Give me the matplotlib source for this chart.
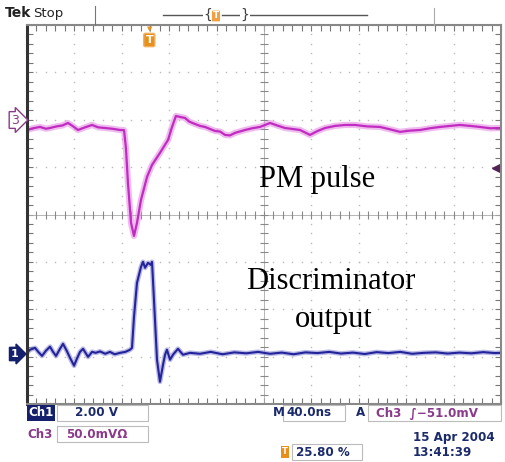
import numpy as np
import matplotlib.pyplot as plt

# screen time in ns (M 40.0ns/div, 10 div)
ch3_t = [0, 5, 11, 16, 19.4, 25, 30, 34.6, 39, 43, 49, 54.9, 60, 65.8, 72, 78.5,
         81.9, 83.5, 85.2, 87.8, 90.3, 92.8, 96.2, 101.3, 105.5, 112.2, 119.0,
         122.4, 125.7, 129, 133.3, 137, 141.8, 146, 150.2, 158.6, 163, 167.1,
         171.3, 175.5, 184.0, 190, 196.6, 205.1, 211, 217.7, 230.4, 238.8, 245,
         251.5, 260, 268.4, 276.8, 287, 297.9, 306, 314.8, 323, 331.7, 340,
         348.5, 357, 365.4, 374, 382.3, 391, 400]
# PM pulse, mV (50.0 mV/div)
ch3_mv = [-10.8, -9, -7.6, -9.5, -8.7, -7, -6, -3.4, -7, -10.8, -8, -5.5, -8,
          -8.7, -9.5, -10.8, -11, -30, -66.7, -108.9, -122.6, -108.9, -84.6,
          -60.3, -47.7, -35.0, -21.3, -7.6, 4.0, 3, 1.9, -2, -4.5, -6.5, -7.6,
          -11.8, -12.5, -16.0, -16.5, -13.9, -10.8, -9, -7.6, -3.4, -6, -8.7,
          -10.8, -16.0, -12, -8.7, -6.5, -5.5, -5.5, -7, -7.6, -10, -12.8,
          -11.5, -10.8, -9, -7.6, -6.5, -5.5, -6.5, -7.6, -9, -8.7]

ch1_t = [0, 2.5, 6.8, 9.5, 12.7, 16, 19.4, 22, 24.5, 27.5, 30.4, 33.5, 36.3,
         39.7, 42, 44.7, 47.3, 51.5, 54.9, 58, 61.6, 66, 70.0, 74, 78.5, 83,
         86.9, 88.6, 90.3, 92.8, 96.2, 97.9, 99.6, 102.1, 104.6, 105.5, 106.3,
         108.0, 109.7, 112.2, 114.8, 116.5, 118.1, 120.7, 123.2, 127.4, 131.6,
         137.6, 146, 155, 165, 175, 185, 195, 205, 215, 225, 235, 245, 255,
         265, 275, 285, 295, 305, 315, 325, 335, 345, 355, 365, 375, 385, 395, 400]
# discriminator output, V (2.00 V/div)
ch1_v = [0.16, 0.29, 0.37, 0.2, 0.03, 0.25, 0.42, 0.2, 0.03, 0.3, 0.54, 0.25,
         -0.05, -0.38, -0.1, 0.2, 0.33, -0.01, 0.2, 0.16, 0.22, 0.12, 0.2, 0.1,
         0.16, 0.2, 0.29, 0.37, 1.68, 3.11, 3.79, 4.0, 3.75, 3.96, 3.87, 4.0,
         3.24, 1.55, -0.13, -1.06, -0.34, 0.08, 0.29, -0.13, 0.08, 0.33, 0.08,
         0.16, 0.12, 0.2, 0.1, 0.18, 0.14, 0.2, 0.12, 0.17, 0.1, 0.18, 0.15,
         0.2, 0.13, 0.17, 0.11, 0.19, 0.15, 0.2, 0.12, 0.16, 0.18, 0.13, 0.17,
         0.14, 0.19, 0.15, 0.16]

ch3_pos, ch3_scale = 2.0, 50.0   # divisions, mV/div
ch1_pos, ch1_scale = -3.0, 2.0   # divisions, V/div
trig_mv = -51.0
trig_frac = 0.258

W, H = 505, 462
def fx(x): return x / W
def fy(y): return 1 - y / H

navy = '#1b2a6b'
mag = '#8a3a8a'

fig = plt.figure(figsize=(5.05, 4.62), dpi=100)
ax = fig.add_axes([fx(27), fy(404), 474 / W, 379 / H])
ax.set_xlim(0, 400)
ax.set_ylim(-4, 4)
ax.set_xticks(np.arange(0, 400.1, 8))
ax.set_yticks(np.arange(-4, 4.01, 0.2))
ax.tick_params(direction='in', length=4, width=0.8, color='#777', top=True, right=True,
               labelbottom=False, labelleft=False)
for s in ax.spines.values():
    s.set_color('#888')
    s.set_linewidth(1.5)
ax.spines['left'].set_color('#333')
ax.spines['left'].set_linewidth(2.2)

# graticule
dots_y = np.arange(-4, 4.01, 0.2)
dots_x = np.arange(0, 400.1, 8)
for k in range(1, 10):
    if k == 5:
        continue
    ax.plot([k * 40] * len(dots_y), dots_y, ls='none', marker='s', ms=1.0, color='#bbb', mew=0)
for k in range(-3, 4):
    if k == 0:
        continue
    ax.plot(dots_x, [k] * len(dots_x), ls='none', marker='s', ms=1.0, color='#bbb', mew=0)
ax.axvline(200, color='#aaa', lw=0.6)
ax.axhline(0, color='#aaa', lw=0.6)
ax.plot([200] * len(dots_y), dots_y, ls='none', marker='_', ms=6, color='#888', mew=0.8)
ax.plot(dots_x, [0] * len(dots_x), ls='none', marker='|', ms=6, color='#888', mew=0.8)

# traces
y3 = ch3_pos + np.array(ch3_mv) / ch3_scale
y1 = ch1_pos + np.array(ch1_v) / ch1_scale
ax.plot(ch3_t, y3, color='#e58fe5', lw=4.5, alpha=0.6, solid_joinstyle='round')
ax.plot(ch3_t, y3, color='#c02cc0', lw=1.6)
ax.plot(ch1_t, y1, color='#8c8cd8', lw=3.5, alpha=0.6)
ax.plot(ch1_t, y1, color='#23239a', lw=1.5)

# trigger level marker
ax.plot([396], [ch3_pos + trig_mv / ch3_scale], marker='<', ms=6, color='#552255', clip_on=False)

# annotations
ax.text(244.7, ch3_pos - 1.27, 'PM pulse', family='Liberation Serif', fontsize=22,
        ha='center', va='center')
ax.text(256.6, ch1_pos + 1.58, 'Discriminator', family='Liberation Serif', fontsize=22,
        ha='center', va='center')
ax.text(259, ch1_pos + 0.78, 'output', family='Liberation Serif', fontsize=22,
        ha='center', va='center')

# trigger position icon in graticule
tx = fx(27 + trig_frac * 474)
fig.text(tx, fy(40), 'T', color='white', fontsize=8, fontweight='bold', ha='center', va='center',
         bbox=dict(boxstyle='round,pad=0.15', fc='#e8901c', ec='#f0b060'))
fig.text(tx, fy(29), '\u25BC', color='#e8901c', fontsize=5, ha='center', va='center')

# channel markers
fig.text(fx(15), fy(120), '3', color=mag, fontsize=9, ha='center', va='center',
         bbox=dict(boxstyle='rarrow,pad=0.15', fc='white', ec=mag, lw=1))
fig.text(fx(15), fy(354), '1', color='white', fontsize=8, fontweight='bold', ha='center', va='center',
         bbox=dict(boxstyle='rarrow,pad=0.15', fc='#14206b', ec='#14206b', lw=1))

# top bar
fig.text(fx(5), fy(13), 'Tek', fontsize=10, fontweight='bold', ha='left', va='center', color='#222')
fig.text(fx(33), fy(13), 'Stop', fontsize=9.5, ha='left', va='center', color='#222')
fig.add_artist(plt.Line2D([fx(95), fx(95)], [fy(6), fy(25)], color='#777', lw=0.8))
fig.add_artist(plt.Line2D([fx(434), fx(434)], [fy(8), fy(25)], color='#aaa', lw=0.8))
fig.add_artist(plt.Line2D([fx(163), fx(367)], [fy(15), fy(15)], color='#555', lw=1.0))
fig.text(fx(208), fy(15), '{', fontsize=10, color='#444', ha='center', va='center',
         bbox=dict(boxstyle='square,pad=0.05', fc='white', ec='none'))
fig.text(fx(245), fy(15), '}', fontsize=10, color='#444', ha='center', va='center',
         bbox=dict(boxstyle='square,pad=0.05', fc='white', ec='none'))
fig.add_artist(plt.Line2D([fx(212), fx(242)], [fy(15), fy(15)], color='white', lw=2))
fig.add_artist(plt.Line2D([fx(222), fx(242)], [fy(15), fy(15)], color='#555', lw=1.0))
fig.text(fx(216), fy(16), 'T', color='white', fontsize=6.5, fontweight='bold', ha='center', va='center',
         bbox=dict(boxstyle='round,pad=0.1', fc='#f0a040', ec='none'))

# bottom readouts
def box(x0, y0, x1, y1):
    fig.add_artist(plt.Rectangle((fx(x0), fy(y1)), (x1 - x0) / W, (y1 - y0) / H,
                                 fill=False, ec='#bbb', lw=0.8))

fs = 8.6
fig.text(fx(28), fy(413), 'Ch1', color='white', fontsize=fs, fontweight='bold', ha='left', va='center',
         bbox=dict(boxstyle='square,pad=0.12', fc='#14206b', ec='none'))
box(57, 405, 148, 421)
fig.text(fx(75), fy(413), '2.00 V', color=navy, fontsize=fs, fontweight='bold', ha='left', va='center')
fig.text(fx(27), fy(434), 'Ch3', color=mag, fontsize=fs, fontweight='bold', ha='left', va='center')
box(57, 426, 148, 442)
fig.text(fx(66), fy(434), '50.0mV\u03A9', color=mag, fontsize=fs, fontweight='bold', ha='left', va='center')
fig.text(fx(273), fy(413), 'M', color=navy, fontsize=fs, fontweight='bold', ha='left', va='center')
box(283, 405, 345, 421)
fig.text(fx(286), fy(413), '40.0ns', color=navy, fontsize=fs, fontweight='bold', ha='left', va='center')
fig.text(fx(356), fy(413), 'A', color=navy, fontsize=fs, fontweight='bold', ha='left', va='center')
box(368, 405, 501, 421)
fig.text(fx(376), fy(413), 'Ch3  \u222B\u221251.0mV', color=mag, fontsize=fs, fontweight='bold',
         ha='left', va='center')
fig.text(fx(413), fy(437), '15 Apr 2004', color=navy, fontsize=fs, fontweight='bold', ha='left', va='center')
fig.text(fx(413), fy(452), '13:41:39', color=navy, fontsize=fs, fontweight='bold', ha='left', va='center')
fig.text(fx(285), fy(452), 'T', color='white', fontsize=6, fontweight='bold', ha='center', va='center',
         bbox=dict(boxstyle='square,pad=0.15', fc='#e8901c', ec='none'))
box(292, 444, 362, 460)
fig.text(fx(296), fy(452), '25.80 %', color=navy, fontsize=fs, fontweight='bold', ha='left', va='center')

fig.savefig('out.png', dpi=100)
